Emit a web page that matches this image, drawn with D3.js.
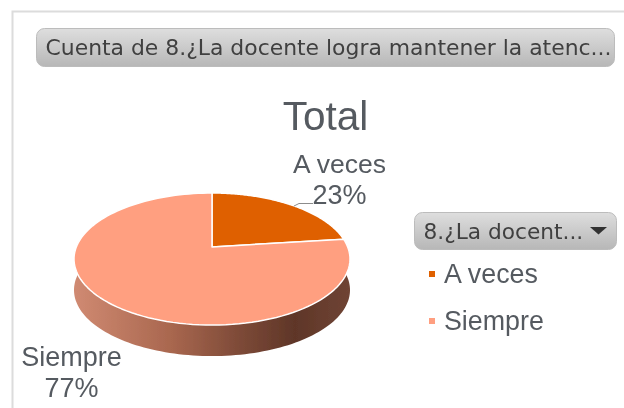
<!DOCTYPE html>
<html lang="es">
<head>
<meta charset="UTF-8">
<title>Total</title>
<script src="https://d3js.org/d3.v7.min.js"></script>
<style>
    html, body { margin: 0; padding: 0; background: #fff; }
    svg { display: block; }
    text { font-family: "Liberation Sans", Arial, sans-serif; fill: #555a60; }
    .btn text { font-family: "DejaVu Sans", sans-serif; fill: #3f3f3f; }
</style>
</head>
<body>
<svg width="624" height="408"></svg>
<script>
const categories = ["A veces", "Siempre"];
const values = [23, 77];
const colors = ["#df6000", "#ff9f80"];
const filterTitle = "Cuenta de 8.¿La docente logra mantener la atenc...";
const legendTitle = "8.¿La docent...";
const chartTitle = "Total";

const svg = d3.select("svg");
const defs = svg.append("defs");

defs.append("filter").attr("id", "soft")
    .attr("x", "-5%").attr("y", "-5%").attr("width", "110%").attr("height", "110%")
    .append("feGaussianBlur").attr("stdDeviation", 0.5);

// boton gris
const btnGrad = defs.append("linearGradient").attr("id", "btn")
    .attr("x1", 0).attr("y1", 0).attr("x2", 0).attr("y2", 1);
btnGrad.append("stop").attr("offset", "0%").attr("stop-color", "#dedede");
btnGrad.append("stop").attr("offset", "100%").attr("stop-color", "#b7b7b7");

// pared del pie
const wallGrad = defs.append("linearGradient").attr("id", "wall")
    .attr("gradientUnits", "userSpaceOnUse")
    .attr("x1", 74).attr("y1", 0).attr("x2", 350).attr("y2", 0);
[[0, "#d08a72"], [0.35, "#a9674f"], [0.62, "#7a4836"], [0.8, "#5f3628"], [1, "#6f4434"]]
    .forEach(s => wallGrad.append("stop").attr("offset", s[0]).attr("stop-color", s[1]));

const root = svg.append("g").attr("filter", "url(#soft)");

// marco
root.append("path")
    .attr("d", "M12.5,408V11.5H624")
    .attr("fill", "none").attr("stroke", "#dcdcdc").attr("stroke-width", 2);

function button(x, y, w, h, label, size) {
    const g = root.append("g").attr("class", "btn");
    g.append("rect").attr("x", x).attr("y", y).attr("width", w).attr("height", h)
        .attr("rx", 8).attr("fill", "url(#btn)").attr("stroke", "#bcbcbc");
    g.append("text").attr("x", x + 9).attr("y", y + h / 2 + size * 0.36)
        .attr("font-size", size).text(label);
    return g;
}

button(36.5, 28.5, 578, 38, filterTitle, 21.9);
const legendBtn = button(414.5, 212.5, 202, 37, legendTitle, 21.7);
legendBtn.append("path").attr("d", "M590,227h17l-8.5,7.5z").attr("fill", "#333");

root.append("text").attr("x", 325.5).attr("y", 130)
    .attr("text-anchor", "middle").attr("font-size", 40.5).text(chartTitle);

// pie en perspectiva: circulo unidad -> pantalla
const tilt = -0.182;
const yScale = d3.scaleLinear().domain([-1, 1]).range([247 - 18.9, 247 + 18.9]);
const xScale = d3.scaleLinear().domain([-1, 1]).range([212 - 135.7, 212 + 135.7]);
const project = (u, v) => {
    const w = 1 + tilt * v;
    return [xScale(0) + (xScale(u) - xScale(0)) / w, yScale(v) / w];
};
const onRim = a => project(Math.sin(a), -Math.cos(a));
const line = d3.line();
const depth = 31;

const pie = d3.pie().sort(null)(values);

function rim(a0, a1) {
    return d3.range(0, 121).map(i => onRim(a0 + (a1 - a0) * i / 120));
}

// pared frontal
const front = rim(Math.PI * 0.45, Math.PI * 1.55);
root.append("path")
    .attr("d", line(front.concat(front.map(p => [p[0], p[1] + depth]).reverse())) + "Z")
    .attr("fill", "url(#wall)");

// cara superior
root.selectAll(".slice")
    .data(pie)
    .enter().append("path")
    .attr("class", "slice")
    .attr("d", d => line([project(0, 0)].concat(rim(d.startAngle, d.endAngle))) + "Z")
    .attr("fill", (d, i) => colors[i])
    .attr("stroke", "#fff")
    .attr("stroke-width", 1.5)
    .attr("stroke-linejoin", "round");

// etiquetas
const total = d3.sum(values);
const labels = [
    { x: 339.5, y: 173 },
    { x: 71.5, y: 366 }
];
root.selectAll(".lab")
    .data(categories)
    .enter().append("text")
    .attr("class", "lab")
    .attr("text-anchor", "middle")
    .attr("font-size", (d, i) => i ? 27 : 26.5)
    .attr("x", (d, i) => labels[i].x)
    .attr("y", (d, i) => labels[i].y)
    .text(d => d);
root.selectAll(".pct")
    .data(values)
    .enter().append("text")
    .attr("class", "pct")
    .attr("text-anchor", "middle")
    .attr("font-size", 27)
    .attr("x", (d, i) => labels[i].x)
    .attr("y", (d, i) => labels[i].y + 31)
    .text(d => Math.round(d / total * 100) + "%");

root.append("path").attr("d", "M294,206L299,203.5H313")
    .attr("fill", "none").attr("stroke", "#8c8c8c").attr("stroke-width", 1);

// leyenda
const legendY = d3.scalePoint().domain(categories).range([274, 321]);
const legend = root.selectAll(".leg")
    .data(categories)
    .enter().append("g")
    .attr("class", "leg")
    .attr("transform", d => `translate(0,${legendY(d)})`);
legend.append("rect").attr("x", 429).attr("y", -3).attr("width", 6).attr("height", 6)
    .attr("fill", (d, i) => colors[i]);
legend.append("text").attr("x", 444).attr("y", 8.5).attr("font-size", 26.8).text(d => d);
</script>
</body>
</html>
